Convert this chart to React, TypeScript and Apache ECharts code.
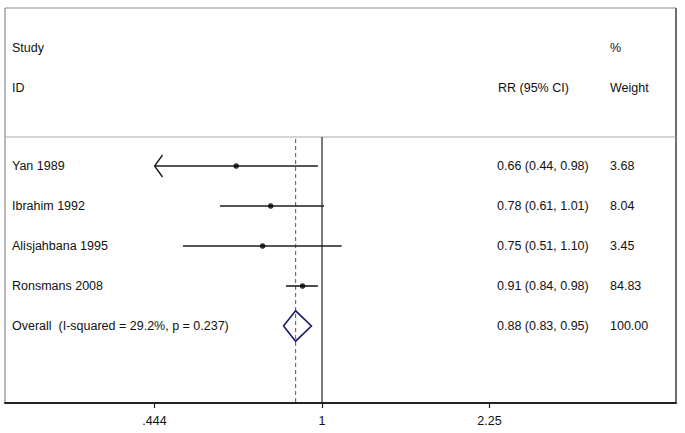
import React, { useEffect, useRef } from "react";
import * as echarts from "echarts";

const studies = ["Yan 1989", "Ibrahim 1992", "Alisjahbana 1995", "Ronsmans 2008"];
const rr = [0.66, 0.78, 0.75, 0.91];
const lower = [0.44, 0.61, 0.51, 0.84];
const upper = [0.98, 1.01, 1.1, 0.98];
const weights = ["3.68", "8.04", "3.45", "84.83"];

const overallLabel = "Overall  (I-squared = 29.2%, p = 0.237)";
const overallRR = 0.88;
const overallLower = 0.83;
const overallUpper = 0.95;
const overallWeight = "100.00";

const tickValues = [1 / 2.25, 1, 2.25];
const tickLabels = [".444", "1", "2.25"];

const FONT = "'Liberation Sans', Arial, Helvetica, sans-serif";
const W = 685;
const H = 433;
const GRID_L = 5;
const GRID_R = 676;
const GRID_T = 8;
const GRID_B = 403;
const X_MIN = -1.535;
const X_MAX = 1.714;
const Y_MIN = -3.95;
const Y_MAX = 5.925;
const SEP_ROW = -0.725;

const ci = (e: number, l: number, u: number) =>
  `${e.toFixed(2)} (${l.toFixed(2)}, ${u.toFixed(2)})`;

export default function App() {
  const ref = useRef<HTMLDivElement>(null);
  useEffect(() => {
    if (!ref.current) return;
    const chart = echarts.init(ref.current, null, { renderer: "svg" });
    const dispMin = tickValues[0];
    const dispMax = tickValues[tickValues.length - 1];
    const nRows = studies.length;

    const textStyle = (t: string, x: number, y: number) => ({
      type: "text",
      x,
      y,
      style: {
        text: t,
        fill: "#111",
        font: `12.5px ${FONT}`,
        verticalAlign: "middle",
        align: "left",
      },
    });

    const option: any = {
      animation: false,
      grid: {
        left: GRID_L,
        right: W - GRID_R,
        top: GRID_T,
        bottom: H - GRID_B,
        containLabel: false,
      },
      xAxis: {
        type: "value",
        min: X_MIN,
        max: X_MAX,
        axisLine: { show: true, onZero: false, lineStyle: { color: "#222", width: 2 } },
        axisTick: {
          show: true,
          length: 5,
          customValues: tickValues.map((v) => Math.log(v)),
          lineStyle: { color: "#222", width: 1.2 },
        },
        axisLabel: {
          show: true,
          customValues: tickValues.map((v) => Math.log(v)),
          formatter: (v: number) => {
            let best = 0;
            tickValues.forEach((t, i) => {
              if (Math.abs(Math.log(t) - v) < Math.abs(Math.log(tickValues[best]) - v)) best = i;
            });
            return tickLabels[best];
          },
          color: "#111",
          fontSize: 12.5,
          fontFamily: FONT,
          margin: 11,
        },
        splitLine: { show: false },
      },
      yAxis: {
        type: "value",
        min: Y_MIN,
        max: Y_MAX,
        inverse: true,
        show: false,
        splitLine: { show: false },
      },
      graphic: [
        { type: "line", shape: { x1: GRID_L, y1: GRID_T, x2: GRID_R, y2: GRID_T }, style: { stroke: "#8a8a8a", lineWidth: 1.2 } },
        { type: "line", shape: { x1: GRID_L, y1: GRID_T, x2: GRID_L, y2: GRID_B }, style: { stroke: "#8a8a8a", lineWidth: 1.2 } },
        { type: "line", shape: { x1: GRID_R, y1: GRID_T, x2: GRID_R, y2: GRID_B }, style: { stroke: "#6e6e6e", lineWidth: 2 } },
        textStyle("Study", 12, 48),
        textStyle("ID", 12, 88),
        textStyle("RR (95% CI)", 498, 88),
        textStyle("%", 610, 48),
        textStyle("Weight", 610, 88),
      ],
      series: [
        {
          type: "custom",
          name: "refs",
          silent: true,
          data: [[0, 0]],
          renderItem: (params: any, api: any) => {
            const top = api.coord([X_MIN, SEP_ROW]);
            const right = api.coord([X_MAX, SEP_ROW]);
            const one = api.coord([Math.log(1), SEP_ROW]);
            const oneB = api.coord([Math.log(1), Y_MAX]);
            const ov = api.coord([Math.log(overallRR), SEP_ROW + 0.05]);
            const ovB = api.coord([Math.log(overallRR), Y_MAX]);
            return {
              type: "group",
              children: [
                { type: "line", shape: { x1: top[0], y1: top[1], x2: right[0], y2: right[1] }, style: { stroke: "#aaaaaa", lineWidth: 1.2 } },
                { type: "line", shape: { x1: one[0], y1: one[1], x2: oneB[0], y2: oneB[1] }, style: { stroke: "#111", lineWidth: 1.1 } },
                { type: "line", shape: { x1: ov[0], y1: ov[1], x2: ovB[0], y2: ovB[1] }, style: { stroke: "#b8404f", lineWidth: 1.1, lineDash: [4, 3] } },
              ],
            };
          },
        },
        {
          type: "custom",
          name: "ci",
          silent: true,
          data: studies.map((_, i) => [Math.log(rr[i]), i]),
          encode: { x: 0, y: 1 },
          renderItem: (params: any, api: any) => {
            const i = params.dataIndex;
            const lo = Math.max(lower[i], dispMin);
            const hi = Math.min(upper[i], dispMax);
            const a = api.coord([Math.log(lo), i]);
            const b = api.coord([Math.log(hi), i]);
            const children: any[] = [
              { type: "line", shape: { x1: a[0], y1: a[1], x2: b[0], y2: b[1] }, style: { stroke: "#1e1e1e", lineWidth: 1.6 } },
            ];
            if (lower[i] < dispMin) {
              children.push({
                type: "polyline",
                shape: { points: [[a[0] + 8, a[1] - 11], [a[0], a[1]], [a[0] + 8, a[1] + 11]] },
                style: { stroke: "#1e1e1e", lineWidth: 1.4, fill: null },
              });
            }
            return { type: "group", children };
          },
        },
        {
          type: "scatter",
          name: "est",
          silent: true,
          symbol: "circle",
          symbolSize: 5.5,
          itemStyle: { color: "#000" },
          data: studies.map((_, i) => [Math.log(rr[i]), i]),
        },
        {
          type: "custom",
          name: "overall",
          silent: true,
          data: [[Math.log(overallRR), nRows]],
          encode: { x: 0, y: 1 },
          renderItem: (params: any, api: any) => {
            const l = api.coord([Math.log(overallLower), nRows]);
            const u = api.coord([Math.log(overallUpper), nRows]);
            const t = api.coord([Math.log(overallRR), nRows - 0.38]);
            const bt = api.coord([Math.log(overallRR), nRows + 0.38]);
            return {
              type: "polygon",
              shape: { points: [[l[0], l[1]], [t[0], t[1]], [u[0], u[1]], [bt[0], bt[1]]] },
              style: { stroke: "#1c1c6e", lineWidth: 1.6, fill: null },
            };
          },
        },
        {
          type: "custom",
          name: "labels",
          silent: true,
          data: [...studies.map((_, i) => [0, i]), [0, nRows]],
          encode: { x: 0, y: 1 },
          renderItem: (params: any, api: any) => {
            const i = params.dataIndex;
            const y = api.coord([0, i])[1];
            const isOv = i === nRows;
            const name = isOv ? overallLabel : studies[i];
            const c = isOv ? ci(overallRR, overallLower, overallUpper) : ci(rr[i], lower[i], upper[i]);
            const w = isOv ? overallWeight : weights[i];
            const mk = (t: string, x: number) => ({
              type: "text",
              x,
              y,
              style: { text: t, fill: "#111", font: `12.5px ${FONT}`, verticalAlign: "middle", align: "left" },
            });
            return { type: "group", children: [mk(name, 12), mk(c, 497), mk(w, 610)] };
          },
        },
      ],
    };
    chart.setOption(option);
    return () => chart.dispose();
  }, []);
  return <div ref={ref} style={{ width: W, height: H, position: "absolute", left: 0, top: 0 }} />;
}
